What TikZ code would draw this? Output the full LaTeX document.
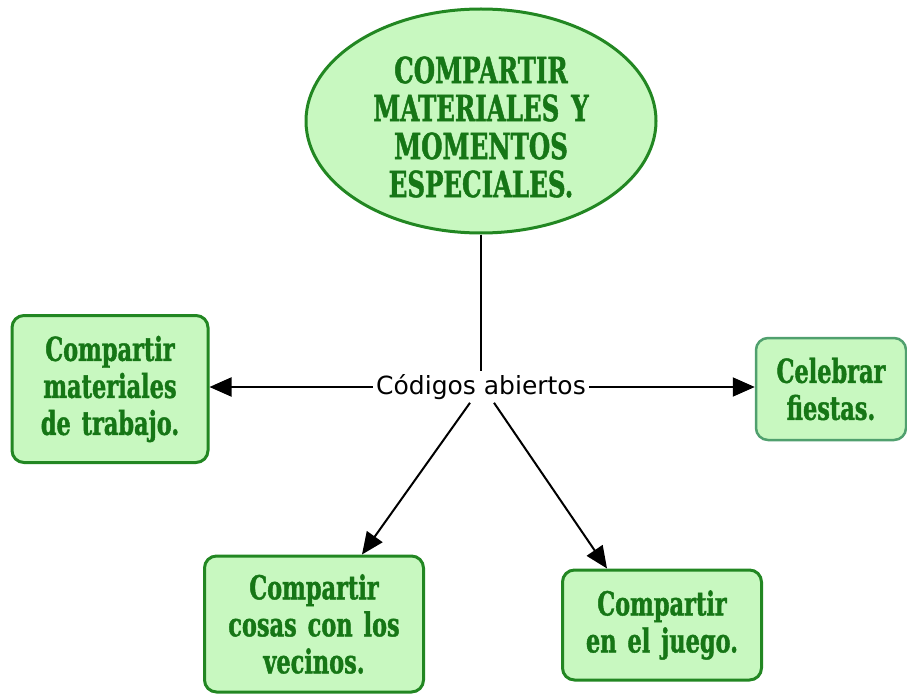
\documentclass[tikz,border=0pt]{standalone}
\usepackage{fontspec}
\usetikzlibrary{calc}
\usetikzlibrary{arrows.meta}
\usetikzlibrary{shapes.geometric}
\newfontfamily\boxfont[FakeStretch=0.68, WordSpace=1.4, BoldFeatures={FakeBold=1.2}]{DejaVu Serif}
\newfontfamily\lblfont{DejaVu Sans}
\definecolor{mapfill}{RGB}{200,248,192}
\definecolor{mapline}{RGB}{34,135,34}
\definecolor{maptext}{RGB}{22,118,22}
\definecolor{mapsoft}{RGB}{80,160,110}
\tikzset{
 mapbox/.style={draw=mapline, line width=3pt, fill=mapfill, rounded corners=12pt, align=center,
   text=maptext, inner sep=0, font=\boxfont\bfseries\fontsize{33}{37}\selectfont},
 maparrow/.style={black, line width=2pt, -{Triangle[length=22pt,width=19pt]}}
}

\begin{document}
\begin{tikzpicture} [x=1pt, y=-1pt]
\useasboundingbox (0,0) rectangle (907,695);
\node[ellipse, draw=mapline, line width=3pt, fill=mapfill, minimum width=350pt, minimum height=224pt] (main) at (481,121) {};
\node[align=center, text=maptext, font=\boxfont\bfseries\fontsize{36}{38}\selectfont] (maintext) at (481,127)
  {COMPARTIR\\MATERIALES Y\\MOMENTOS\\ESPECIALES.};
\node[inner sep=3pt, font=\lblfont\fontsize{25}{28}\selectfont] (codes) at (481,387) {Códigos abiertos};
\node[mapbox, minimum width=196pt, minimum height=147pt] (work) at (110,389) {Compartir\\materiales\\de trabajo.};
\node[mapbox, draw=mapsoft, line width=2.5pt, minimum width=150pt, minimum height=102pt] (party) at (831,389) {Celebrar\\fiestas.};
\node[mapbox, minimum width=219pt, minimum height=136pt] (neigh) at (314,624) {Compartir\\cosas con los\\vecinos.};
\node[mapbox, minimum width=199pt, minimum height=110pt] (play) at (662,625) {Compartir\\en el juego.};

\draw[black, line width=2pt] (main.south) -- (codes.north);
\draw[maparrow] (codes.west) -- (codes.west -| work.east);
\draw[maparrow] (codes.east) -- (codes.east -| party.west);
\draw[maparrow] ($(codes.south)+(-11,0)$) -- ([xshift=48pt]neigh.north);
\draw[maparrow] ($(codes.south)+(13,0)$) -- ([xshift=-55pt]play.north);
\end{tikzpicture}
\end{document}
